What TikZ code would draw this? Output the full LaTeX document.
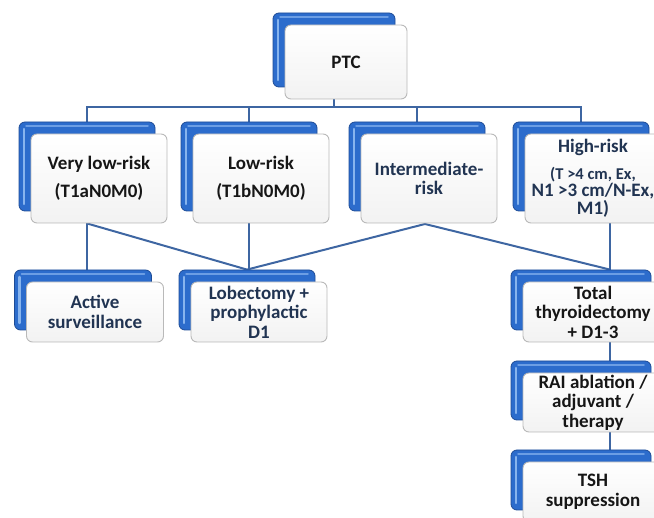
\documentclass[tikz,border=0pt]{standalone}
\usepackage{fontspec}
\setmainfont{Carlito}
\usetikzlibrary{backgrounds}
\definecolor{boxblue}{RGB}{44,108,204}
\definecolor{boxdark}{RGB}{30,76,150}
\definecolor{boxlight}{RGB}{135,180,238}
\definecolor{connblue}{RGB}{62,102,162}
\definecolor{navytext}{RGB}{33,52,82}
\definecolor{darktext}{RGB}{22,22,22}
\tikzset{
  backbox/.style={draw=boxdark, line width=0.8pt, fill=boxblue, rounded corners=6pt, inner sep=0pt,
    path picture={\draw[boxlight, line width=2.5pt, line cap=round]
      ([xshift=5pt,yshift=-7pt]path picture bounding box.north west) --
      ([xshift=5pt,yshift=7pt]path picture bounding box.south west);
      \draw[boxlight!70!boxblue, line width=1.5pt, line cap=round]
      ([xshift=7pt,yshift=-4pt]path picture bounding box.north west) --
      ([xshift=-7pt,yshift=-4pt]path picture bounding box.north east);}},
  frontbox/.style={draw=gray!55, line width=0.9pt, top color=white, bottom color=gray!10,
    rounded corners=6pt, inner sep=0pt, align=center, font=\fontsize{19}{19.5}\selectfont\bfseries},
  conn/.style={draw=connblue, line width=2pt},
  blk/.style={text=darktext},
  nvy/.style={text=navytext}
}
\newcommand\twinbox[7]{%
  \node[backbox, minimum width=#4pt, minimum height=#5pt] (#1B) at ({#2-12},{#3-12}) {};
  \node[frontbox, minimum width=#4pt, minimum height=#5pt, #6] (#1) at (#2,#3) {#7};}
\begin{document}
\begin{tikzpicture}[x=1pt,y=-1pt]
\useasboundingbox (0,0) rectangle (654,518);
\clip (0,0) rectangle (654,518);
\twinbox{ptc}{346}{62}{122}{74}{blk}{PTC}
\twinbox{vl}{99}{178.5}{136}{89}{blk}{Very low-risk\\[9pt](T1aN0M0)}
\twinbox{lo}{261}{178.5}{136}{89}{blk}{Low-risk\\[9pt](T1bN0M0)}
\twinbox{im}{429}{178.5}{136}{89}{nvy}{Intermediate-\\risk}
\twinbox{hi}{593}{178.5}{136}{89}{nvy}{High-risk\\[7pt]\fontsize{16.5}{16}\selectfont (T >4 cm, Ex,\\[-2pt]N1 >3 cm/N-Ex,\\[-2pt]M1)}
\twinbox{as}{95}{312}{137}{60}{nvy}{Active\\surveillance}
\twinbox{lb}{259}{312}{136}{60}{nvy}{\fontsize{19}{18.5}\selectfont Lobectomy +\\prophylactic\\D1}
\twinbox{tt}{593}{312}{140}{60}{blk}{\fontsize{19}{18.5}\selectfont Total\\thyroidectomy\\+ D1-3}
\twinbox{rai}{593}{402.5}{140}{59}{blk}{\fontsize{19}{20}\selectfont RAI ablation /\\adjuvant /\\therapy}
\twinbox{tsh}{593}{492}{140}{60}{blk}{TSH\\suppression}
\coordinate (bus) at (334,107);
\coordinate (rc) at (610,0);
\coordinate (peak) at (425,224);
\begin{scope}[on background layer]
  \draw[conn] (ptcB.center) -- (bus);
  \draw[conn] (vlB.center) |- (bus) -| (hiB.center);
  \draw[conn] (loB.center) -- (loB.center |- bus);
  \draw[conn] (imB.center) -- (imB.center |- bus);
  \draw[conn] (vlB.center) -- (vlB.center |- asB.north);
  \draw[conn] (vl.south -| vlB.center) -- (lbB.north);
  \draw[conn] (loB.center) -- (loB.center |- lbB.north) -- (lbB.north);
  \draw[conn] (lbB.north) -- (peak) -- (rc |- ttB.north);
  \draw[conn] (hi.south -| rc) -- (tsh.center -| rc);
\end{scope}
\end{tikzpicture}
\end{document}
